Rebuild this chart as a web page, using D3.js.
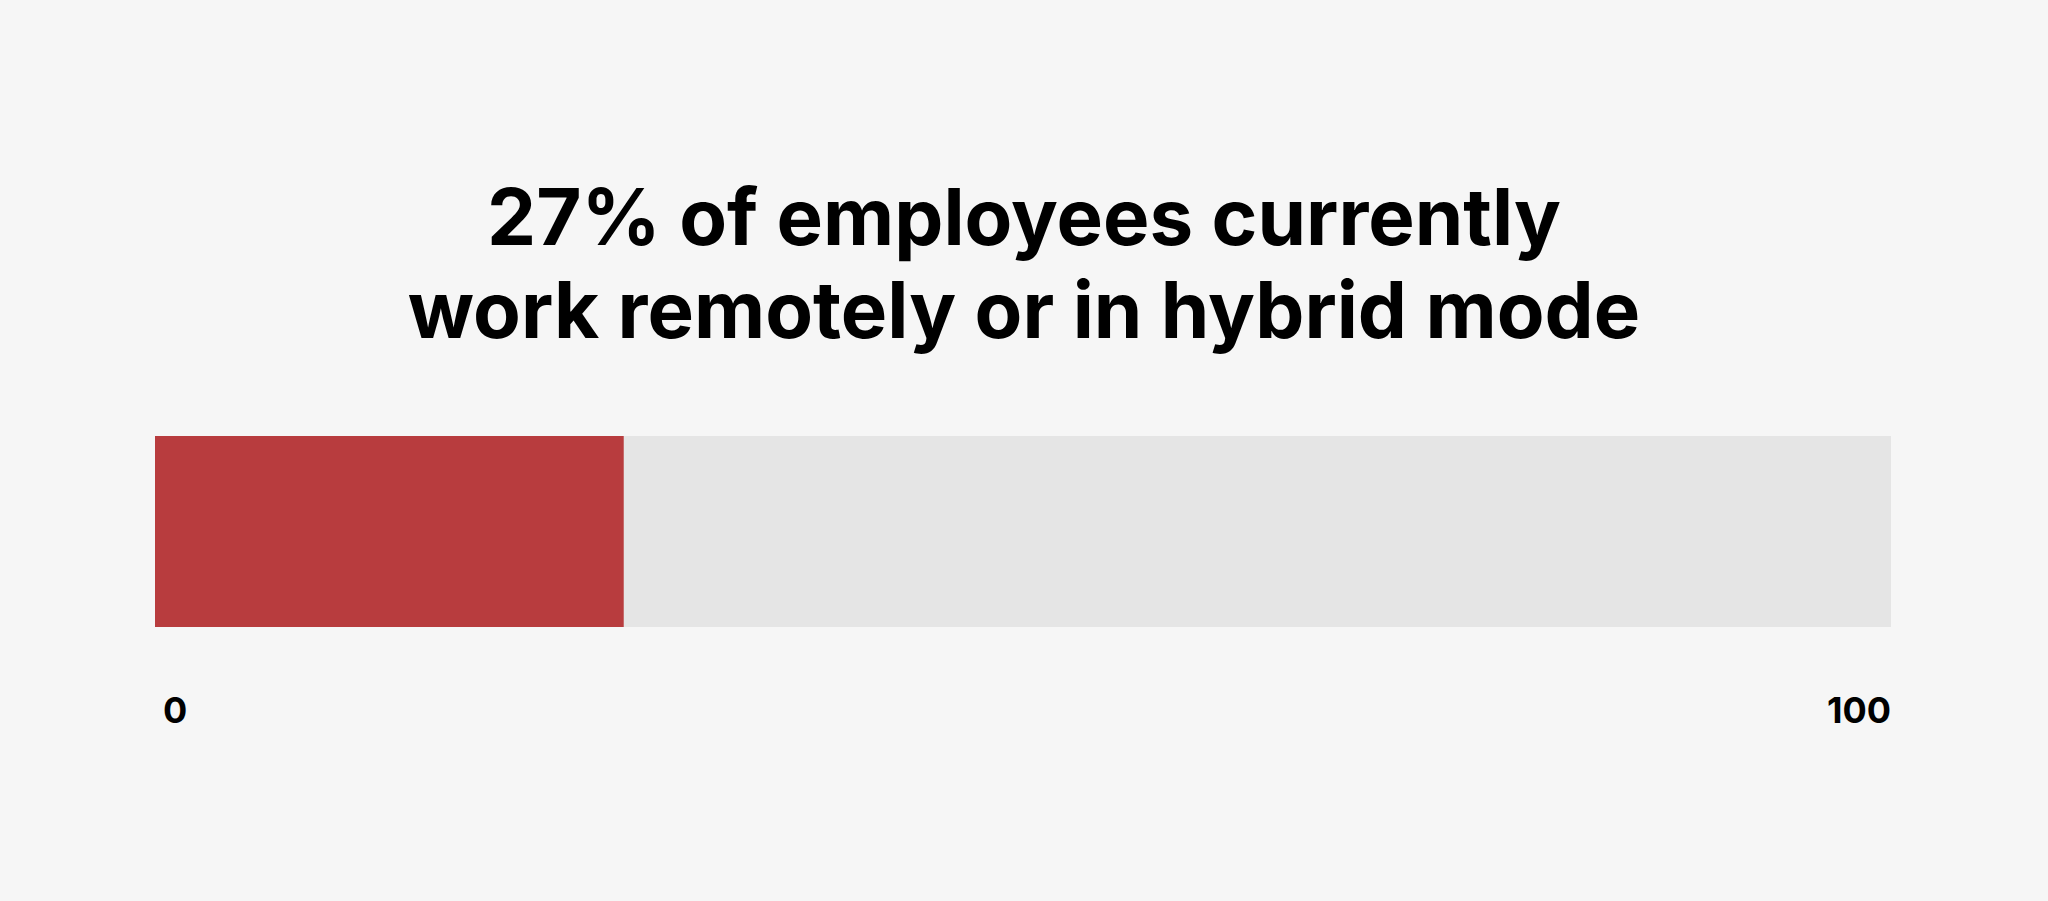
<!DOCTYPE html>
<html>
<head>
<meta charset="utf-8">
<script src="https://cdn.jsdelivr.net/npm/d3@7.9.0/dist/d3.min.js"></script>
<style>
  html, body { margin: 0; padding: 0; background: #f6f6f6; }
  svg { display: block; }
  text { font-family: Inter, "Noto Sans", sans-serif; font-weight: 700; fill: #000; }
</style>
</head>
<body>
<svg id="chart" width="2048" height="901"></svg>
<script>
// chart data
const titleLines = ['27% of employees currently', 'work remotely or in hybrid mode'];
const share = [27];
const domain = [0, 100];
const tickLabels = ['0', '100'];

const width = 2048, height = 901;
const svg = d3.select('#chart');

svg.append('rect')
  .attr('width', width)
  .attr('height', height)
  .attr('fill', '#f6f6f6');

// title, two centred lines
svg.append('g')
  .selectAll('text')
  .data(titleLines)
  .join('text')
  .attr('x', width / 2)
  .attr('y', (d, i) => 245 + i * 93)
  .attr('text-anchor', 'middle')
  .attr('font-size', 78)
  .text(d => d);

const x = d3.scaleLinear().domain(domain).range([155, 1891]);
const barTop = 436, barH = 191;

// background track
svg.append('rect')
  .attr('x', x(domain[0]))
  .attr('y', barTop)
  .attr('width', x(domain[1]) - x(domain[0]))
  .attr('height', barH)
  .attr('fill', '#e5e5e5');

// value bar
svg.selectAll('.bar')
  .data(share)
  .join('rect')
  .attr('class', 'bar')
  .attr('x', x(0))
  .attr('y', barTop)
  .attr('width', d => x(d) - x(0))
  .attr('height', barH)
  .attr('fill', '#b83c3e');

// end labels
svg.append('g')
  .selectAll('text')
  .data(tickLabels)
  .join('text')
  .attr('x', (d, i) => i === 0 ? x(domain[0]) + 8 : x(domain[1]))
  .attr('y', 723)
  .attr('text-anchor', (d, i) => i === 0 ? 'start' : 'end')
  .attr('font-size', 36)
  .text(d => d);
</script>
</body>
</html>
